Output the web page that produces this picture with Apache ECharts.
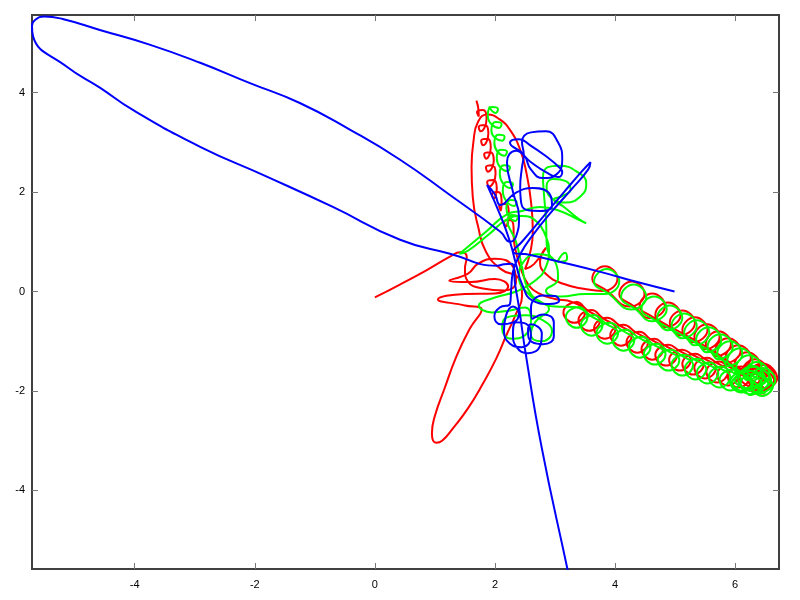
<!DOCTYPE html>
<html>
<head>
<meta charset="utf-8">
<script src="https://cdn.jsdelivr.net/npm/echarts@6/dist/echarts.min.js"></script>
<style>html,body{margin:0;padding:0;background:#fff}#c{width:800px;height:600px}</style>
</head>
<body>
<div id="c"></div>
<script>
// Axis ranges and tick labels
var xMin = -5.71, xMax = 6.73, yMin = -5.58, yMax = 5.56;
var xTicks = [-4, -2, 0, 2, 4, 6];
var yTicks = [-4, -2, 0, 2, 4];

// ---- Red body ----
var redStart = [[0.0,-0.12],[0.4,0.13],[0.85,0.42],[1.25,0.7],[1.42,0.79]];
var redCenter = [[1.53,0.7],[1.5,0.45],[1.55,0.2],[1.8,0.06],[2.15,0.02],[2.35,0.2],[2.3,0.5],[2.0,0.66],[1.72,0.56],[1.55,0.36],[1.24,0.22],[1.6,0.19],[2.0,0.25],[2.22,0.1],[2.0,-0.04],[1.5,-0.05],[1.05,-0.16],[1.5,-0.28],[1.78,-0.36]];
var redDownLoop = [[1.58,-0.75],[1.36,-1.3],[1.16,-1.95],[1.0,-2.5],[0.95,-2.85],[1.02,-3.04],[1.12,-3.0],[1.3,-2.75],[1.55,-2.35],[1.8,-1.85],[2.02,-1.35],[2.2,-0.85],[2.35,-0.45],[2.45,-0.1]];
var redTall = [[2.4,0.25],[2.1,0.45],[1.85,0.8],[1.72,1.3],[1.63,1.9],[1.61,2.5],[1.64,3.0],[1.72,3.42],[1.88,3.56],[2.08,3.46],[2.25,3.25],[2.42,2.85],[2.53,2.35],[2.6,1.8],[2.63,1.2],[2.58,0.75],[2.5,0.45]];
var redMid = [[2.65,0.55],[2.85,0.88],[2.75,0.6],[2.85,0.35],[3.15,0.15],[3.5,0.05]];
var redUpperChain = [
 [3.79,0.01],[4.04,0.26],[3.83,0.51],[3.62,0.26],[3.87,0.01],
 [4.24,-0.3],[4.49,-0.05],[4.28,0.2],[4.07,-0.05],[4.32,-0.3],
 [4.58,-0.54],[4.83,-0.29],[4.62,-0.04],[4.41,-0.29],[4.66,-0.54],
 [4.84,-0.72],[5.09,-0.47],[4.88,-0.22],[4.67,-0.47],[4.92,-0.72],
 [5.08,-0.88],[5.33,-0.63],[5.12,-0.38],[4.91,-0.63],[5.16,-0.88],
 [5.29,-1.02],[5.54,-0.77],[5.33,-0.52],[5.12,-0.77],[5.37,-1.02],
 [5.49,-1.16],[5.74,-0.91],[5.53,-0.66],[5.32,-0.91],[5.57,-1.16],
 [5.68,-1.3],[5.93,-1.05],[5.72,-0.8],[5.51,-1.05],[5.76,-1.3],
 [5.84,-1.44],[6.09,-1.19],[5.88,-0.94],[5.67,-1.19],[5.92,-1.44],
 [6.01,-1.58],[6.26,-1.33],[6.05,-1.08],[5.84,-1.33],[6.09,-1.58],
 [6.16,-1.72],[6.41,-1.47],[6.2,-1.22],[5.99,-1.47],[6.24,-1.72],
 [6.29,-1.86],[6.54,-1.61],[6.33,-1.36],[6.12,-1.61],[6.37,-1.86],
 [6.41,-1.98],[6.66,-1.73],[6.45,-1.48],[6.24,-1.73],[6.49,-1.98]];
var redEndCluster = [
 [6.41,-2.05],[6.7,-1.75],[6.45,-1.45],[6.2,-1.75],[6.49,-2.05],
 [6.31,-2.05],[6.65,-1.8],[6.35,-1.55],[6.05,-1.8],[6.39,-2.05],
 [6.26,-1.94],[6.52,-1.72],[6.3,-1.5],[6.08,-1.72],[6.34,-1.94]];
var redLowerChain = [
 [6.45,-1.58],[6.23,-1.79],[6.41,-2.0],[6.59,-1.79],[6.37,-1.58],
 [6.27,-1.55],[6.05,-1.76],[6.23,-1.97],[6.41,-1.76],[6.19,-1.55],
 [6.1,-1.51],[5.88,-1.72],[6.06,-1.93],[6.24,-1.72],[6.02,-1.51],
 [5.92,-1.47],[5.7,-1.68],[5.88,-1.89],[6.06,-1.68],[5.84,-1.47],
 [5.74,-1.41],[5.52,-1.62],[5.7,-1.83],[5.88,-1.62],[5.66,-1.41],
 [5.54,-1.33],[5.32,-1.54],[5.5,-1.75],[5.68,-1.54],[5.46,-1.33],
 [5.34,-1.25],[5.12,-1.46],[5.3,-1.67],[5.48,-1.46],[5.26,-1.25],
 [5.12,-1.17],[4.9,-1.38],[5.08,-1.59],[5.26,-1.38],[5.04,-1.17],
 [4.89,-1.07],[4.67,-1.28],[4.85,-1.49],[5.03,-1.28],[4.81,-1.07],
 [4.66,-0.95],[4.44,-1.16],[4.62,-1.37],[4.8,-1.16],[4.58,-0.95],
 [4.41,-0.81],[4.19,-1.02],[4.37,-1.23],[4.55,-1.02],[4.33,-0.81],
 [4.14,-0.67],[3.92,-0.88],[4.1,-1.09],[4.28,-0.88],[4.06,-0.67],
 [3.87,-0.53],[3.65,-0.74],[3.83,-0.95],[4.01,-0.74],[3.79,-0.53],
 [3.61,-0.37],[3.39,-0.58],[3.57,-0.79],[3.75,-0.58],[3.53,-0.37],
 [3.36,-0.21],[3.14,-0.42],[3.32,-0.63],[3.5,-0.42],[3.28,-0.21]];
var redReturn = [[3.0,-0.15],[2.75,-0.05],[2.55,0.15],[2.42,0.5],[2.33,0.9],[2.31,1.15]];
var redCurls = [
 [2.31,1.27],[2.25,1.44],[2.15,1.4],[2.18,1.31],
 [2.23,1.59],[2.17,1.76],[2.07,1.72],[2.1,1.63],
 [2.11,1.83],[2.05,2.0],[1.95,1.96],[1.98,1.87],
 [2.03,2.07],[1.97,2.24],[1.87,2.2],[1.9,2.11],
 [2.01,2.37],[1.95,2.54],[1.85,2.5],[1.88,2.41],
 [1.98,2.63],[1.92,2.8],[1.82,2.76],[1.85,2.67],
 [1.93,2.9],[1.87,3.07],[1.77,3.03],[1.8,2.94],
 [1.89,3.18],[1.83,3.35],[1.73,3.31],[1.76,3.22],
 [1.86,3.48],[1.8,3.65],[1.7,3.61],[1.73,3.52],
 [1.72,3.7],[1.69,3.84]];

// ---- Green body ----
var greenStart = [[3.05,0.62],[3.17,0.78],[3.2,0.66],[3.08,0.6],[2.9,0.75]];
var greenUp = [[2.86,1.0],[2.85,1.45],[2.82,1.9],[2.8,2.3],[2.88,2.5],[3.06,2.53],[3.39,2.39],[3.52,2.17],[3.44,1.93],[3.17,1.79],[2.92,1.9],[2.86,2.12],[2.98,2.26],[3.18,2.22],[3.26,2.05],[3.12,1.92],[2.98,1.85],[3.15,1.7],[3.38,1.47],[3.52,1.37],[3.38,1.45],[3.08,1.62],[2.75,1.7],[2.45,1.62],[2.2,1.55],[1.85,1.2],[1.41,0.76],[1.55,0.82],[1.9,1.15],[2.2,1.45],[2.45,1.52],[2.7,1.4],[2.85,1.1],[2.9,0.85]];
var greenCenter = [[2.85,0.5],[2.65,0.2],[2.35,0.0],[2.0,-0.12],[1.73,-0.28],[1.95,-0.42],[2.25,-0.38],[2.5,-0.32],[2.6,-0.55],[2.5,-0.88],[2.28,-0.95],[2.12,-0.75],[2.2,-0.52],[2.5,-0.48],[2.8,-0.58],[2.95,-0.8],[2.78,-1.0],[2.6,-0.88],[2.68,-0.6],[2.9,-0.35],[2.6,-0.1],[2.4,0.3],[2.45,0.55],[2.7,0.75],[3.0,0.6],[3.05,0.25],[2.85,0.02],[3.1,-0.1],[3.5,-0.05]];
var greenUpperChain = [
 [3.82,-0.05],[4.07,0.2],[3.86,0.45],[3.65,0.2],[3.9,-0.05],
 [4.27,-0.36],[4.52,-0.11],[4.31,0.14],[4.1,-0.11],[4.35,-0.36],
 [4.61,-0.6],[4.86,-0.35],[4.65,-0.1],[4.44,-0.35],[4.69,-0.6],
 [4.87,-0.78],[5.12,-0.53],[4.91,-0.28],[4.7,-0.53],[4.95,-0.78],
 [5.11,-0.94],[5.36,-0.69],[5.15,-0.44],[4.94,-0.69],[5.19,-0.94],
 [5.32,-1.08],[5.57,-0.83],[5.36,-0.58],[5.15,-0.83],[5.4,-1.08],
 [5.52,-1.22],[5.77,-0.97],[5.56,-0.72],[5.35,-0.97],[5.6,-1.22],
 [5.71,-1.36],[5.96,-1.11],[5.75,-0.86],[5.54,-1.11],[5.79,-1.36],
 [5.87,-1.5],[6.12,-1.25],[5.91,-1.0],[5.7,-1.25],[5.95,-1.5],
 [6.04,-1.64],[6.29,-1.39],[6.08,-1.14],[5.87,-1.39],[6.12,-1.64],
 [6.19,-1.78],[6.44,-1.53],[6.23,-1.28],[6.02,-1.53],[6.27,-1.78],
 [6.32,-1.92],[6.57,-1.67],[6.36,-1.42],[6.15,-1.67],[6.4,-1.92],
 [6.42,-2.04],[6.67,-1.79],[6.46,-1.54],[6.25,-1.79],[6.5,-2.04]];
var greenEndCluster = [
 [6.27,-2.05],[6.6,-1.8],[6.3,-1.52],[6.0,-1.8],[6.33,-2.05],
 [6.22,-2.08],[6.55,-1.85],[6.25,-1.6],[5.95,-1.85],[6.28,-2.08],
 [6.16,-2.0],[6.5,-1.78],[6.3,-1.5],[6.05,-1.75],[6.24,-2.0]];
var greenLowerChain = [
 [6.49,-1.68],[6.27,-1.89],[6.45,-2.1],[6.63,-1.89],[6.41,-1.68],
 [6.31,-1.65],[6.09,-1.86],[6.27,-2.07],[6.45,-1.86],[6.23,-1.65],
 [6.14,-1.61],[5.92,-1.82],[6.1,-2.03],[6.28,-1.82],[6.06,-1.61],
 [5.96,-1.57],[5.74,-1.78],[5.92,-1.99],[6.1,-1.78],[5.88,-1.57],
 [5.78,-1.51],[5.56,-1.72],[5.74,-1.93],[5.92,-1.72],[5.7,-1.51],
 [5.58,-1.43],[5.36,-1.64],[5.54,-1.85],[5.72,-1.64],[5.5,-1.43],
 [5.38,-1.35],[5.16,-1.56],[5.34,-1.77],[5.52,-1.56],[5.3,-1.35],
 [5.16,-1.27],[4.94,-1.48],[5.12,-1.69],[5.3,-1.48],[5.08,-1.27],
 [4.93,-1.17],[4.71,-1.38],[4.89,-1.59],[5.07,-1.38],[4.85,-1.17],
 [4.7,-1.05],[4.48,-1.26],[4.66,-1.47],[4.84,-1.26],[4.62,-1.05],
 [4.45,-0.91],[4.23,-1.12],[4.41,-1.33],[4.59,-1.12],[4.37,-0.91],
 [4.18,-0.77],[3.96,-0.98],[4.14,-1.19],[4.32,-0.98],[4.1,-0.77],
 [3.91,-0.63],[3.69,-0.84],[3.87,-1.05],[4.05,-0.84],[3.83,-0.63],
 [3.65,-0.47],[3.43,-0.68],[3.61,-0.89],[3.79,-0.68],[3.57,-0.47],
 [3.4,-0.31],[3.18,-0.52],[3.36,-0.73],[3.54,-0.52],[3.32,-0.31]];
var greenReturn = [[3.0,-0.3],[2.75,-0.2],[2.55,0.05],[2.45,0.5],[2.35,1.0],[2.24,1.28]];
var greenCurls = [
 [2.21,1.37],[2.28,1.54],[2.38,1.5],[2.34,1.42],
 [2.19,1.67],[2.26,1.84],[2.36,1.8],[2.32,1.72],
 [2.13,2.03],[2.2,2.2],[2.3,2.16],[2.26,2.08],
 [2.08,2.37],[2.15,2.54],[2.25,2.5],[2.21,2.42],
 [2.03,2.68],[2.1,2.85],[2.2,2.81],[2.16,2.73],
 [1.99,2.98],[2.06,3.15],[2.16,3.11],[2.12,3.03],
 [1.94,3.24],[2.01,3.41],[2.11,3.37],[2.07,3.29],
 [1.88,3.54],[1.95,3.71],[2.05,3.67],[2.01,3.59],
 [1.9,3.72]];

// ---- Blue body ----
var blueTail = [[4.99,0.0],[4.4,0.18],[3.74,0.4],[3.07,0.6],[2.57,0.74],[2.3,0.8]];
var blueSpike = [[2.45,1.0],[2.8,1.5],[3.15,2.0],[3.45,2.42],[3.59,2.6],[3.55,2.45],[3.27,2.05],[2.94,1.6],[2.64,1.15],[2.42,0.75],[2.3,0.4]];
var blueLow = [[2.27,0.05],[2.25,-0.25],[2.08,-0.32],[1.99,-0.5],[2.1,-0.66],[2.3,-0.62],[2.4,-0.45],[2.3,-0.3],[2.18,-0.5],[2.15,-0.78],[2.25,-1.05],[2.45,-1.12],[2.6,-0.9],[2.52,-0.65],[2.35,-0.62],[2.3,-0.85],[2.36,-1.12],[2.55,-1.24],[2.75,-1.1],[2.78,-0.85],[2.6,-0.66],[2.55,-0.8],[2.62,-1.02],[2.8,-1.06],[2.98,-0.9],[2.98,-0.62],[2.8,-0.46],[2.62,-0.55],[2.6,-0.32],[2.8,-0.08],[3.0,-0.09],[3.07,-0.18],[2.9,-0.25],[2.62,-0.18]];
var blueTop = [[2.45,0.15],[2.35,0.55],[2.25,1.0],[2.1,1.5],[1.87,2.14],[2.0,1.95],
 [2.09,1.74],[2.34,1.98],[2.63,2.08],[2.92,1.94],[2.95,1.72],[2.75,1.62],[2.45,1.72],
 [2.42,2.1],[2.45,2.5],[2.48,2.75],[2.45,3.0],[2.6,3.2],[2.85,3.22],[3.05,3.0],[3.12,2.65],[3.02,2.35],[2.8,2.28],[2.6,2.45],[2.48,2.75],
 [2.25,2.99],[2.4,3.06],[2.6,2.93],[2.85,2.72],[3.05,2.52],[3.12,2.4],[3.05,2.3],[2.85,2.4],[2.6,2.6],[2.35,2.83],
 [2.2,2.6],[2.3,2.0],[2.4,1.5],[2.35,1.1],[2.25,1.0]];
var blueBigLoop = [[2.09,1.2],[1.25,1.94],[0.42,2.65],[-0.41,3.25],[-1.25,3.79],[-2.08,4.19],[-2.91,4.6],[-3.74,4.96],[-4.58,5.26],[-5.2,5.48],[-5.5,5.53],[-5.66,5.46],[-5.71,5.34],[-5.69,5.12],[-5.13,4.52],[-4.58,4.1],[-4.03,3.65],[-2.91,2.91],[-1.8,2.31],[-0.7,1.7],[0.42,1.04],[1.25,0.76],[2.04,0.52]];
var blueEscape = [[2.15,0.55],[2.28,0.56],[2.34,0.1],[2.4,-0.32],[2.51,-1.24],[2.78,-3.15],[3.21,-5.6],[3.26,-5.9]];

var redPath = [].concat(redStart, redCenter, redDownLoop, redTall, redMid, redUpperChain, redEndCluster, redLowerChain, redReturn, redCurls);
var greenPath = [].concat(greenStart, greenUp, greenCenter, greenUpperChain, greenEndCluster, greenLowerChain, greenReturn, greenCurls);
var bluePath = [].concat(blueTail, blueSpike, blueLow, blueTop, blueBigLoop, blueEscape);

var chart = echarts.init(document.getElementById('c'), null, {renderer: 'canvas'});
var labelFont = {fontFamily: 'Liberation Sans, Arial, sans-serif', fontSize: 11, color: '#000'};
function xAx(pos, showLabel) {
  return {
    type: 'value', position: pos, min: xMin, max: xMax,
    axisLine: {show: false, onZero: false},
    splitLine: {show: false},
    axisTick: {show: true, inside: true, length: 6, customValues: xTicks, lineStyle: {color: '#777', width: 1}},
    axisLabel: Object.assign({show: showLabel, margin: 10, customValues: xTicks}, labelFont)
  };
}
function yAx(pos, showLabel) {
  return {
    type: 'value', position: pos, min: yMin, max: yMax,
    axisLine: {show: false, onZero: false},
    splitLine: {show: false},
    axisTick: {show: true, inside: true, length: 6, customValues: yTicks, lineStyle: {color: '#777', width: 1}},
    axisLabel: Object.assign({show: showLabel, margin: 7, customValues: yTicks}, labelFont)
  };
}
function mk(name, data, color) {
  return {
    name: name, type: 'line', data: data, xAxisIndex: 0, yAxisIndex: 0,
    showSymbol: false, symbol: 'none', smooth: 0.5, clip: true,
    lineStyle: {color: color, width: 2}, itemStyle: {color: color}
  };
}
chart.setOption({
  animation: false,
  backgroundColor: '#fff',
  grid: {left: 32, top: 15, width: 747, height: 554, show: true, borderColor: '#404040', borderWidth: 2, backgroundColor: 'transparent'},
  xAxis: [xAx('bottom', true), xAx('top', false)],
  yAxis: [yAx('left', true), yAx('right', false)],
  series: [
    mk('red', redPath, '#ff0000'),
    mk('green', greenPath, '#00ff00'),
    mk('blue', bluePath, '#0000ff')
  ]
});
</script>
</body>
</html>
